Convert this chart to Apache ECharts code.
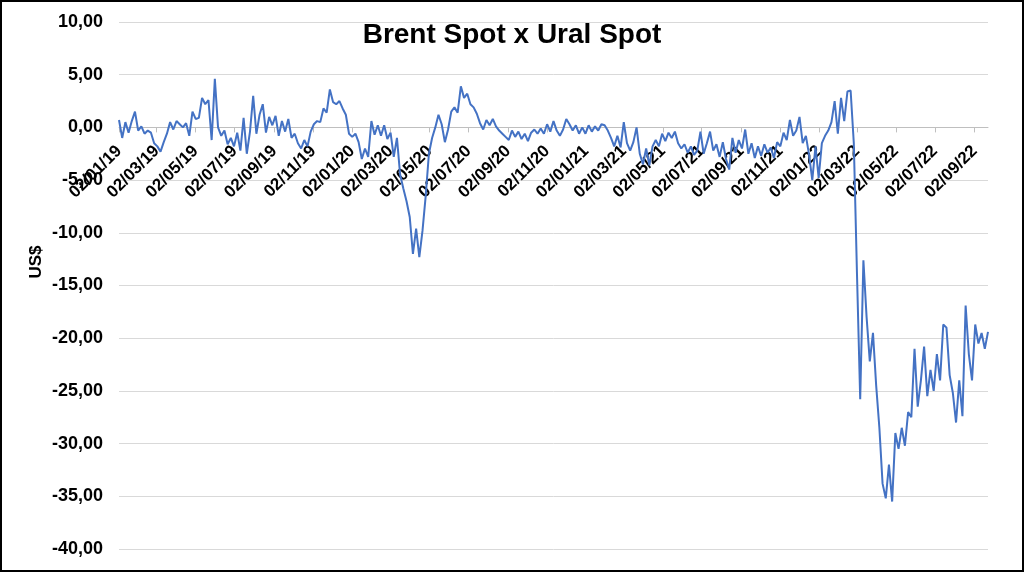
<!DOCTYPE html>
<html>
<head>
<meta charset="utf-8">
<script src="https://cdn.jsdelivr.net/npm/echarts@6/dist/echarts.min.js"></script>
<style>
html,body{margin:0;padding:0;background:#fff;}
#c{width:1024px;height:572px;box-sizing:border-box;border:2px solid #000;background:#fff;}
</style>
</head>
<body>
<div id="c"></div>
<script>
// Brent minus Urals spread (US$), one reading every 5 calendar days from 02/01/2019
const startDate = [2019, 1, 2];
const stepDays = 5;

const spread2019 = [
  0.7, -1.0, 0.5, -0.5, 0.6, 1.5, -0.3, 0.1, -0.6, -0.3,
  -0.5, -1.5, -1.8, -2.3, -1.4, -0.6, 0.5, -0.2, 0.6, 0.3,
  0.0, 0.4, -0.8, 1.5, 0.8, 0.9, 2.8, 2.2, 2.6, -1.2,
  4.6, 0.0, -0.8, -0.3, -1.6, -1.0, -1.8, -0.5, -2.2, 0.9,
  -2.5, -0.4, 3.0, -0.6, 1.2, 2.2, -0.5, 1.0, 0.2, 1.1,
  -0.8, 0.6, -0.4, 0.8, -1.0, -0.6, -1.5, -2.0, -1.2, -1.8,
  -0.4, 0.3, 0.6, 0.5, 1.8, 1.4, 3.6, 2.4, 2.2, 2.5,
  1.8, 1.2, -0.6
];
const spread2020 = [
  -0.9, -0.6, -1.4, -3.0, -2.0, -2.8, 0.6, -0.7, 0.2, -0.8,
  0.2, -1.1, -0.5, -2.8, -1.0, -4.5, -5.8, -7.0, -8.5, -12.0,
  -9.6, -12.3, -9.8, -6.5, -2.5, -1.0, 0.0, 1.2, 0.3, -1.4,
  -0.2, 1.5, 1.9, 1.4, 3.9, 2.8, 3.2, 2.2, 1.9, 1.3,
  0.4, -0.2, 0.7, 0.2, 0.8, 0.1, -0.3, -0.6, -0.9, -1.2,
  -0.3, -0.9, -0.4, -1.1, -0.6, -1.3, -0.5, -0.2, -0.6, -0.1,
  -0.6, 0.3, -0.4, 0.6, -0.3, -0.8, -0.2, 0.8, 0.3, -0.3,
  0.2, -0.6, 0.0
];
const spread2021 = [
  -0.6, 0.2, -0.4, 0.1, -0.3, 0.3, 0.2, -0.3, -1.0, -1.8,
  -0.8, -1.9, 0.5, -1.5, -2.2, -1.4, 0.0, -2.5, -3.5, -2.0,
  -3.6, -1.8, -1.2, -1.8, -0.6, -1.3, -0.5, -1.0, -0.4, -1.5,
  -2.0, -1.6, -2.4, -1.8, -2.6, -2.2, -0.4, -2.5, -1.5, -0.4,
  -2.2, -1.6, -2.8, -1.4, -3.0, -4.0, -1.0, -2.4, -1.2, -2.0,
  -0.2, -2.5, -1.5, -2.9, -1.8, -2.7, -1.6, -2.4, -1.9, -2.9,
  -1.4, -1.8, -0.5, -1.2, 0.7, -0.8, -0.3, 1.0, -1.5, -0.8,
  -2.6, -5.0, -1.8
];
const spread2022 = [
  -4.8, -1.5, -0.8, -0.3, 0.5, 2.5, -0.6, 2.8, 0.6, 3.4,
  3.5, -1.5, -14.0, -25.8, -12.6, -18.0, -22.2, -19.5, -24.5, -28.5,
  -33.8, -35.2, -32.0, -35.5, -29.0, -30.5, -28.5, -30.2, -27.0, -27.5,
  -21.0, -26.5, -24.0, -20.8, -25.5, -23.0, -25.0, -21.5, -24.0, -18.7,
  -19.0, -23.5, -25.2, -28.0, -24.0, -27.4, -16.9, -21.5, -24.0, -18.7,
  -20.5, -19.5, -21.0, -19.4
];

const tickLabels = [
  '02/01/19', '02/03/19', '02/05/19', '02/07/19', '02/09/19', '02/11/19',
  '02/01/20', '02/03/20', '02/05/20', '02/07/20', '02/09/20', '02/11/20',
  '02/01/21', '02/03/21', '02/05/21', '02/07/21', '02/09/21', '02/11/21',
  '02/01/22', '02/03/22', '02/05/22', '02/07/22', '02/09/22'
];
const yMin = -40, yMax = 10, yStep = 5;

function parseDMY(s) {
  const p = s.split('/').map(Number);
  return new Date(2000 + p[2], p[1] - 1, p[0]).getTime();
}
const values = [].concat(spread2019, spread2020, spread2021, spread2022);
const data = values.map((v, i) => [
  new Date(startDate[0], startDate[1] - 1, startDate[2] + i * stepDays).getTime(), v
]);
const tMin = data[0][0];
const tMax = data[data.length - 1][0];
const tickValues = tickLabels.map(parseDMY);
function labelFor(v) {
  let best = 0, bd = Infinity;
  tickValues.forEach((t, i) => { const d = Math.abs(t - v); if (d < bd) { bd = d; best = i; } });
  return tickLabels[best];
}

const FONT = '"Liberation Sans", Arial, sans-serif';
const gridTop = 20, gridBottom = 21, chartH = 568;
const plotH = chartH - gridTop - gridBottom;
// distance of the zero line above the bottom of the plot (axis crosses at 0)
const zeroFromBottom = plotH * (0 - yMin) / (yMax - yMin);

const chart = echarts.init(document.getElementById('c'), null, { renderer: 'canvas' });
chart.setOption({
  animation: false,
  backgroundColor: '#fff',
  title: {
    text: 'Brent Spot x Ural Spot',
    left: 'center',
    top: 14,
    textStyle: { fontFamily: FONT, fontSize: 28, fontWeight: 'bold', color: '#000' }
  },
  grid: { left: 117, right: 34, top: gridTop, bottom: gridBottom, containLabel: false, outerBoundsMode: 'none' },
  xAxis: {
    type: 'value',
    min: tMin,
    max: tMax,
    position: 'bottom',
    offset: -zeroFromBottom,
    axisLine: { show: true, onZero: false, lineStyle: { color: '#BFBFBF', width: 1 } },
    axisTick: { show: true, customValues: tickValues, length: 5, lineStyle: { color: '#BFBFBF' } },
    axisLabel: {
      customValues: tickValues,
      rotate: 45,
      margin: 21,
      formatter: v => labelFor(v),
      fontFamily: FONT, fontSize: 17, fontWeight: 'bold', color: '#000'
    },
    splitLine: { show: false }
  },
  yAxis: {
    type: 'value',
    min: yMin, max: yMax, interval: yStep,
    axisLine: { show: false },
    axisTick: { show: false },
    splitLine: { lineStyle: { color: '#D9D9D9', width: 1 } },
    axisLabel: {
      margin: 16,
      formatter: v => v.toFixed(2).replace('.', ','),
      fontFamily: FONT, fontSize: 18, fontWeight: 'bold', color: '#000'
    }
  },
  graphic: [{
    type: 'text',
    x: 34, y: 260,
    rotation: Math.PI / 2,
    style: {
      text: 'US$', align: 'center', verticalAlign: 'middle',
      font: 'bold 17px "Liberation Sans", Arial, sans-serif', fill: '#000'
    }
  }],
  series: [{
    type: 'line',
    data: data,
    showSymbol: false,
    symbol: 'none',
    lineStyle: { color: '#4472C4', width: 2 },
    itemStyle: { color: '#4472C4' }
  }]
});
</script>
</body>
</html>
